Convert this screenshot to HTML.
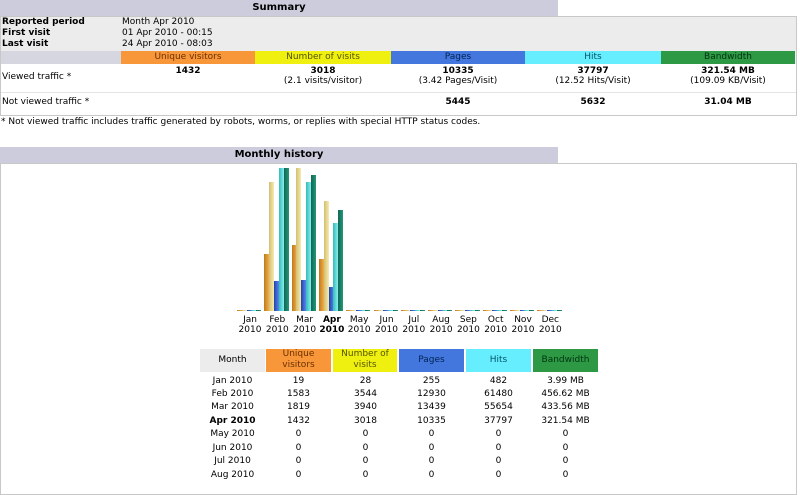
<!DOCTYPE html>
<html><head><style>
body{margin:0;width:800px;height:487px;background:#fff;font-family:"DejaVu Sans","Liberation Sans",sans-serif;font-size:9px;color:#000;position:relative;overflow:hidden}
.a{position:absolute;white-space:nowrap}
.c{text-align:center}
.t{background:#ccccdd;font-weight:bold;font-size:10px;text-align:center;line-height:16px}
.b{font-weight:bold}
.bar{position:absolute;width:5px}
</style></head><body>
<div class="a t" style="left:0;top:0;width:558px;height:16px">Summary</div>
<div class="a" style="left:0;top:16px;width:795px;height:98px;border:1px solid #c8c8c8;background:#fff"></div>
<div class="a" style="left:1px;top:17px;width:795px;height:47px;background:#ececec"></div>
<div class="a b" style="left:2px;top:17px">Reported period</div><div class="a" style="left:122px;top:17px">Month Apr 2010</div>
<div class="a b" style="left:2px;top:28px">First visit</div><div class="a" style="left:122px;top:28px">01 Apr 2010 - 00:15</div>
<div class="a b" style="left:2px;top:39px">Last visit</div><div class="a" style="left:122px;top:39px">24 Apr 2010 - 08:03</div>
<div class="a" style="left:1px;top:51px;width:120px;height:13px;background:#d6d6e0"></div>
<div class="a c" style="left:121px;top:51px;width:134px;height:13px;line-height:13px;background:#f8963a;color:#6a3000">Unique visitors</div>
<div class="a c" style="left:255px;top:51px;width:136px;height:13px;line-height:13px;background:#f0f010;color:#555500">Number of visits</div>
<div class="a c" style="left:391px;top:51px;width:134px;height:13px;line-height:13px;background:#4477dd;color:#002255">Pages</div>
<div class="a c" style="left:525px;top:51px;width:136px;height:13px;line-height:13px;background:#66eeff;color:#005566">Hits</div>
<div class="a c" style="left:661px;top:51px;width:134px;height:13px;line-height:13px;background:#2e9944;color:#003310">Bandwidth</div>
<div class="a" style="left:1px;top:92px;width:795px;height:1px;background:#e4e4e4"></div>
<div class="a" style="left:2px;top:72px">Viewed traffic *</div>
<div class="a c b" style="left:121px;top:66px;width:134px">1432</div>
<div class="a c" style="left:255px;top:66px;width:136px"><b>3018</b><br>(2.1 visits/visitor)</div>
<div class="a c" style="left:391px;top:66px;width:134px"><b>10335</b><br>(3.42 Pages/Visit)</div>
<div class="a c" style="left:525px;top:66px;width:136px"><b>37797</b><br>(12.52 Hits/Visit)</div>
<div class="a c" style="left:661px;top:66px;width:134px"><b>321.54 MB</b><br>(109.09 KB/Visit)</div>
<div class="a" style="left:2px;top:97px">Not viewed traffic *</div>
<div class="a c b" style="left:391px;top:97px;width:134px">5445</div>
<div class="a c b" style="left:525px;top:97px;width:136px">5632</div>
<div class="a c b" style="left:661px;top:97px;width:134px">31.04 MB</div>
<div class="a" style="left:1px;top:117px">* Not viewed traffic includes traffic generated by robots, worms, or replies with special HTTP status codes.</div>

<div class="a t" style="left:0;top:147px;width:558px;height:16px">Monthly history</div>
<div class="a" style="left:0;top:163px;width:795px;height:330px;border:1px solid #c8c8c8"></div>
<div id="ch"></div>
<div class="a" style="left:200px;top:349px;width:65px;height:23px;background:#ececec"></div>
<div class="a c" style="left:200px;top:355px;width:65px">Month</div>
<div class="a c" style="left:266px;top:349px;width:65px;height:23px;background:#f8963a;color:#6a3000;line-height:11px">Unique<br>visitors</div>
<div class="a c" style="left:333px;top:349px;width:64px;height:23px;background:#f0f010;color:#555500;line-height:11px">Number of<br>visits</div>
<div class="a c" style="left:399px;top:349px;width:65px;height:23px;line-height:23px;background:#4477dd;color:#002255">Pages</div>
<div class="a c" style="left:466px;top:349px;width:65px;height:23px;line-height:23px;background:#66eeff;color:#005566">Hits</div>
<div class="a c" style="left:533px;top:349px;width:65px;height:23px;line-height:23px;background:#2e9944;color:#003310">Bandwidth</div>
<div id="tb"></div>
<script>
var d=[["Jan",19,28,255,482,3.99],["Feb",1583,3544,12930,61480,456.62],["Mar",1819,3940,13439,55654,433.56],["Apr",1432,3018,10335,37797,321.54],["May",0,0,0,0,0],["Jun",0,0,0,0,0],["Jul",0,0,0,0,0],["Aug",0,0,0,0,0],["Sep",0,0,0,0,0],["Oct",0,0,0,0,0],["Nov",0,0,0,0,0],["Dec",0,0,0,0,0]];
var cols=["linear-gradient(90deg,#c07818,#f0b050)","linear-gradient(90deg,#d0c070,#f8eab0)","linear-gradient(90deg,#2244aa,#5588ee)","linear-gradient(90deg,#33bbbb,#88eeee)","linear-gradient(90deg,#116655,#229977)"];
var mx=[3940,3940,61480,61480,456.62],h="",base=311;
for(var i=0;i<12;i++){var x0=237+i*27.3;
 for(var k=0;k<5;k++){var v=d[i][k+1];var hh=Math.max(1,Math.round(143*v/mx[k]));
  h+='<div class="bar" style="left:'+Math.round(x0+k*4.8)+'px;top:'+(base-hh)+'px;height:'+hh+'px;background:'+cols[k]+'"></div>';}
 h+='<div class="a c" style="left:'+(x0-3)+'px;top:315px;width:32px;line-height:10px;'+(i==3?'font-weight:bold':'')+'">'+d[i][0]+'<br>2010</div>';}
document.getElementById('ch').innerHTML=h;
var t="",cx=[200,266,333,399,466,533];
for(var i=0;i<8;i++){var y=375.5+i*13.45;var r=[d[i][0]+" 2010",d[i][1],d[i][2],d[i][3],d[i][4],d[i][5]?d[i][5].toFixed(2)+" MB":"0"];
 for(var k=0;k<6;k++)t+='<div class="a c" style="left:'+cx[k]+'px;top:'+y+'px;width:65px;'+(i==3&&k==0?'font-weight:bold':'')+'">'+r[k]+'</div>';}
document.getElementById('tb').innerHTML=t;
</script>
</body></html>
